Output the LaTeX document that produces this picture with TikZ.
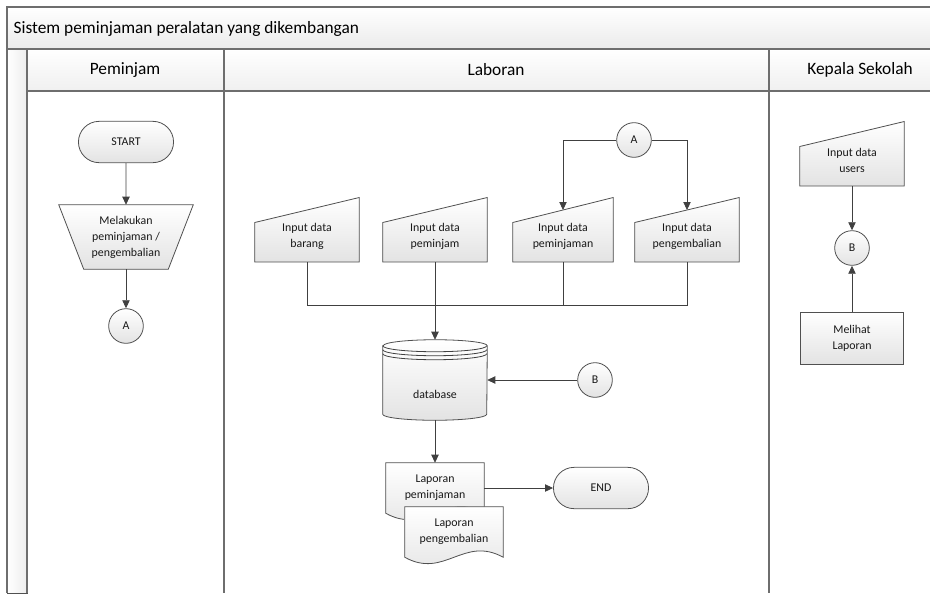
\documentclass[tikz,border=0pt]{standalone}
\usepackage{fontspec}
\setmainfont{Carlito}
\usetikzlibrary{arrows.meta,calc,shapes.misc}
\pgfdeclarelayer{lanes}
\pgfdeclarelayer{shapes}
\pgfsetlayers{lanes,shapes,main}
\definecolor{lanegray}{HTML}{6E6E6E}
\definecolor{edgegray}{HTML}{505050}
\definecolor{linegray}{HTML}{404040}
\tikzset{
  txt/.style={font=\fontsize{8.9}{12}\selectfont, align=center, text=black!90},
  head/.style={font=\fontsize{13}{15}\selectfont},
  shade/.style={draw=edgegray, line width=0.6pt, top color=white, bottom color=black!11},
  term/.style={txt, shade, rounded rectangle, minimum width=78pt, minimum height=31pt},
  conn/.style={txt, shade, circle, minimum size=26pt, inner sep=0pt},
  proc/.style={txt, shade, rectangle, minimum width=77pt, minimum height=39pt},
  holder/.style={txt, inner sep=0pt, minimum width=#1},
  line/.style={linegray, line width=0.6pt},
  arr/.style={line, -{Triangle[length=6pt,width=5.5pt]}},
  lane/.style={lanegray, line width=1.2pt},
}
\newcommand{\maninput}[1]{\draw[shade] (#1.south west) -- (#1.south east) -- ($(#1.north east)+(0,-12.5)$) -- ($(#1.north west)+(0,12.5)$) -- cycle;}
\newcommand{\docshape}[1]{\draw[shade] (#1.north west) -- (#1.north east) -- (#1.south east) .. controls ($(#1.south east)+(-40,-22)$) and ($(#1.south west)+(40,22)$) .. (#1.south west) -- cycle;}
\newcommand{\dbring}[1]{\draw[line] ($(db.north west)+(0,#1)$) arc[start angle=180, end angle=360, x radius=39pt, y radius=4.5pt];}

\begin{document}
\begin{tikzpicture}[x=0.75pt, y=-0.75pt]
\useasboundingbox (0,0) rectangle (930,593);

\begin{pgfonlayer}{lanes}
  \shade[top color=white, bottom color=black!8] (7,7) rectangle (930,49);
  \shade[top color=white, bottom color=black!6] (27,49) rectangle (930,91);
  \shade[left color=white, right color=black!7] (7,49) rectangle (27,593);
  \draw[lane] (930,7) -- (7,7) -- (7,593);
  \draw[lane] (7,49) -- (930,49);
  \draw[lane] (27,91) -- (930,91);
  \draw[lane] (27,49) -- (27,593);
  \draw[lane, line width=1.6pt] (224,49) -- (224,593);
  \draw[lane, line width=1.6pt] (769,49) -- (769,593);
\end{pgfonlayer}

\node[head, anchor=west] (title) at (9,29) {Sistem peminjaman peralatan yang dikembangan};
\node[head] (hp) at (125,70) {Peminjam};
\node[head] (hl) at (496,70) {Laboran};
\node[head] (hk) at (860,70) {Kepala Sekolah};

\node[term] (start) at (126,142) {START};
\node[holder=100.5pt, minimum height=48pt] (lk) at (126,237) {Melakukan\\peminjaman /\\pengembalian};
\node[conn] (a1) at (126,326) {A};

\node[holder=78pt, minimum height=38.6pt] (ib) at (307,236) {Input data\\barang};
\node[holder=78pt, minimum height=38.6pt] (ip) at (435,236) {Input data\\peminjam};
\node[holder=75pt, minimum height=38.6pt] (ipm) at (563,236) {Input data\\peminjaman};
\node[holder=78pt, minimum height=38.6pt] (ipg) at (687,236) {Input data\\pengembalian};
\node[conn] (a2) at (634,140) {A};
\coordinate (bus) at (435,305);
\node[holder=78pt, minimum height=60pt] (db) at (435,380) {\raisebox{-14pt}[0pt][0pt]{database}};
\node[conn] (b2) at (595,380) {B};
\node[holder=73.5pt, minimum height=37.5pt] (lp) at (435,488) {Laporan\\peminjaman};
\node[term] (end) at (601,488) {END};
\node[holder=73.5pt, minimum height=37.5pt] (lg) at (454,532) {Laporan\\pengembalian};

\node[holder=78pt, minimum height=38.6pt] (users) at (852,160) {Input data\\users};
\node[conn] (b3) at (852,248) {B};
\node[proc] (lihat) at (852,338) {Melihat\\Laporan};

\begin{pgfonlayer}{shapes}
  \draw[shade] (lk.north west) -- (lk.north east) -- ($(lk.south east)+(-25,0)$) -- ($(lk.south west)+(25,0)$) -- cycle;
  \maninput{ib}
  \maninput{ip}
  \maninput{ipm}
  \maninput{ipg}
  \maninput{users}
  \draw[shade] ($(db.north west)+(0,6)$) -- ($(db.south west)+(0,-6)$) arc[start angle=180, end angle=360, x radius=39pt, y radius=4.5pt] -- ($(db.north east)+(0,6)$) arc[start angle=0, end angle=180, x radius=39pt, y radius=4.5pt] -- cycle;
  \dbring{6}
  \dbring{10}
  \dbring{14}
  \docshape{lp}
  \docshape{lg}
\end{pgfonlayer}

\draw[arr] (start) -- (lk);
\draw[arr] (lk) -- (a1);
\draw[arr] (a2) -| (ipm.north);
\draw[arr] (a2) -| (ipg.north);
\draw[line] (ib.south) |- (bus);
\draw[line] (ipg.south) |- (bus);
\draw[line] (ipm.south) -- (ipm.south |- bus);
\draw[arr] (ip) -- (db);
\draw[arr] (b2) -- (db);
\draw[arr] (db) -- (lp);
\draw[arr] (lp) -- (end);
\draw[arr] (users) -- (b3);
\draw[arr] (lihat) -- (b3);
\end{tikzpicture}
\end{document}
